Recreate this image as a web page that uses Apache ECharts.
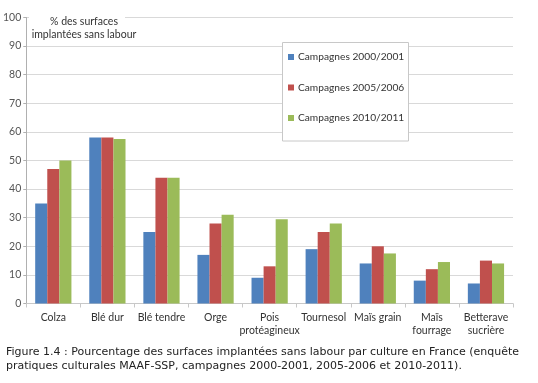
<!DOCTYPE html>
<html><head><meta charset="utf-8">
<script src="https://cdn.jsdelivr.net/npm/echarts@6/dist/echarts.min.js"></script>
<style>html,body{margin:0;padding:0;background:#fff}#c{width:538px;height:383px}</style>
</head><body><div id="c"></div>
<script>
const categories = ['Colza', 'Blé dur', 'Blé tendre', 'Orge', 'Pois\nprotéagineux', 'Tournesol', 'Maïs grain', 'Maïs\nfourrage', 'Betterave\nsucrière'];
const seriesNames = ['Campagnes 2000/2001', 'Campagnes 2005/2006', 'Campagnes 2010/2011'];
const s2000 = [35, 58, 25, 17, 9, 19, 14, 8, 7];
const s2005 = [47, 58, 44, 28, 13, 25, 20, 12, 15];
const s2010 = [50, 57.5, 44, 31, 29.5, 28, 17.5, 14.5, 14];
const yTicks = [0, 10, 20, 30, 40, 50, 60, 70, 80, 90, 100];
const colors = ['#4F81BD', '#C0504D', '#9BBB59'];
const yTitle = '% des surfaces\nimplantées sans labour';
const caption = 'Figure 1.4 : Pourcentage des surfaces implantées sans labour par culture en France (enquête\npratiques culturales MAAF-SSP, campagnes 2000-2001, 2005-2006 et 2010-2011).';

const chart = echarts.init(document.getElementById('c'), null, {renderer: 'canvas'});
const lblFont = 'Lato, "Open Sans", sans-serif';
chart.setOption({
  animation: false,
  color: colors,
  grid: {left: 26, right: 25, top: 17.5, bottom: 79.5, containLabel: false},
  legend: {
    orient: 'vertical', left: 288, top: 52, itemWidth: 6, itemHeight: 6, itemGap: 20.5,
    padding: 0, icon: 'rect', z: 5,
    textStyle: {fontFamily: lblFont, fontSize: 10.2, color: '#333', padding: [0, 0, 0, -1]},
    data: seriesNames
  },
  xAxis: {
    type: 'category', data: categories,
    axisLine: {lineStyle: {color: '#c8c8c8'}},
    axisTick: {show: true, alignWithLabel: false, length: 4, lineStyle: {color: '#c8c8c8'}},
    axisLabel: {fontFamily: lblFont, fontSize: 10.5, color: '#333', margin: 8, lineHeight: 13, interval: 0}
  },
  yAxis: {
    type: 'value', min: yTicks[0], max: yTicks[yTicks.length - 1], interval: 10,
    axisLine: {show: true, lineStyle: {color: '#b0b0b0'}},
    axisTick: {show: true, inside: false, length: 3, lineStyle: {color: '#b0b0b0'}},
    axisLabel: {fontFamily: lblFont, fontSize: 10.5, color: '#555', margin: 5},
    splitLine: {lineStyle: {color: '#d9d9d9'}}
  },
  series: [
    {name: seriesNames[0], type: 'bar', data: s2000, barGap: '0%', barCategoryGap: '33%'},
    {name: seriesNames[1], type: 'bar', data: s2005, barGap: '0%', barCategoryGap: '33%'},
    {name: seriesNames[2], type: 'bar', data: s2010, barGap: '0%', barCategoryGap: '33%'}
  ],
  graphic: [
    {type: 'rect', z: 3, shape: {x: 282.5, y: 42.5, width: 126, height: 98.5},
     style: {fill: '#fff', stroke: '#c8c8c8', lineWidth: 1}},
    {type: 'rect', z: 3, shape: {x: 29, y: 12, width: 96, height: 30}, style: {fill: '#fff'}},
    {type: 'text', z: 4, x: 84, y: 15,
     style: {text: yTitle, fontFamily: lblFont, fontSize: 10.5, fill: '#333', align: 'center', verticalAlign: 'top', lineHeight: 13}},
    {type: 'text', z: 4, x: 6, y: 345,
     style: {text: caption, fontFamily: '"DejaVu Sans", sans-serif', fontSize: 11, fill: '#222', lineHeight: 14, verticalAlign: 'top'}}
  ]
});
</script></body></html>
